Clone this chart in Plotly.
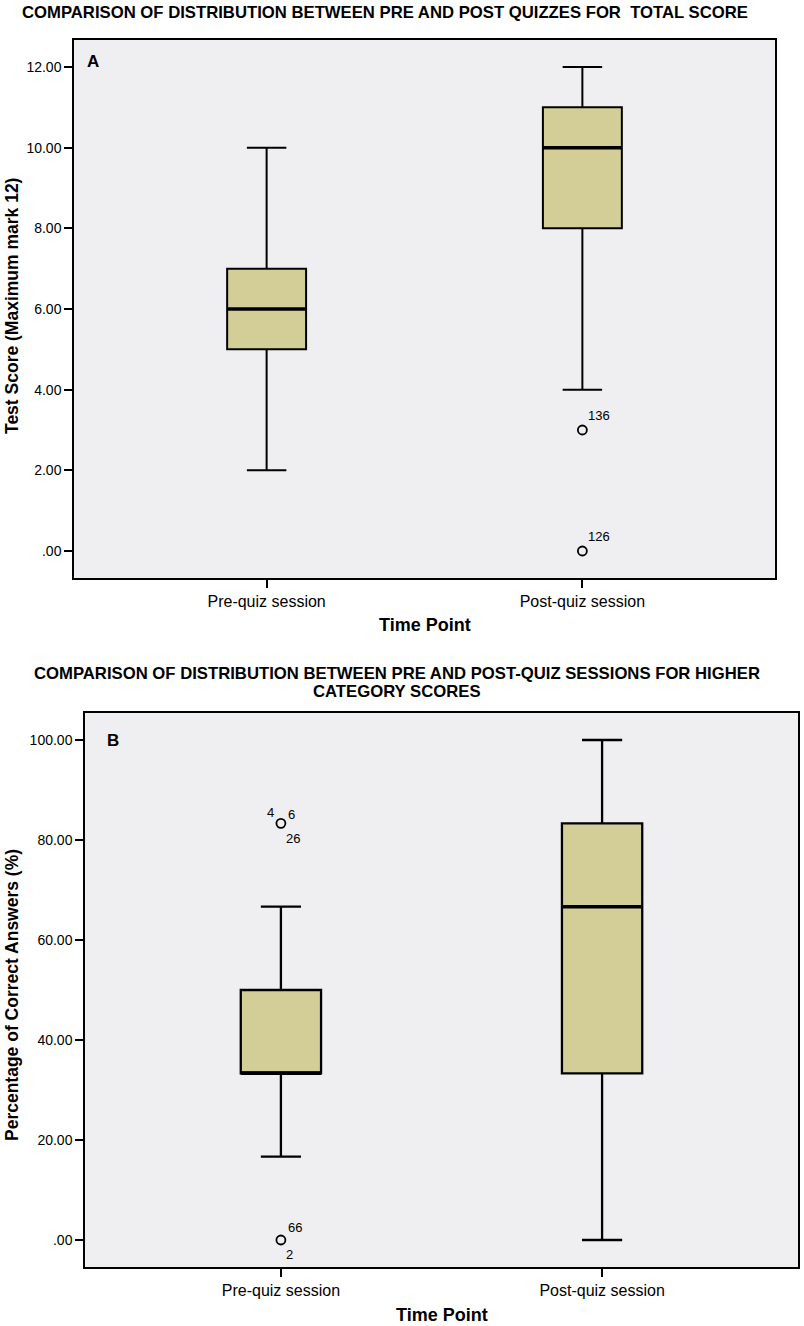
import plotly.graph_objects as go

W, H = 804, 1326

sessions = ["Pre-quiz session", "Post-quiz session"]

# ---- Panel A: total score (maximum mark 12) ----
a_low = [2, 4]
a_q1 = [5, 8]
a_median = [6, 10]
a_q3 = [7, 11]
a_high = [10, 12]
a_out_x = ["Post-quiz session", "Post-quiz session"]
a_out_y = [3, 0]
a_out_ids = [["136"], ["126"]]
a_tickvals = [0, 2, 4, 6, 8, 10, 12]
a_ticktext = [".00", "2.00", "4.00", "6.00", "8.00", "10.00", "12.00"]

# ---- Panel B: higher category scores (%) ----
b_low = [16.67, 0]
b_q1 = [33.33, 33.33]
b_median = [33.33, 66.67]
b_q3 = [50, 83.33]
b_high = [66.67, 100]
b_out_x = ["Pre-quiz session", "Pre-quiz session"]
b_out_y = [83.33, 0]
b_out_ids = [["4", "6", "26"], ["66", "2"]]
b_tickvals = [0, 20, 40, 60, 80, 100]
b_ticktext = [".00", "20.00", "40.00", "60.00", "80.00", "100.00"]

FONT = "Liberation Sans, Arial, sans-serif"
BOX_FILL = "#D3CE98"
BG = "#EFEEF0"
BOX_W = 0.25


def px_x(p):
    return p / W


def px_y(p):
    return 1 - p / H


# where SPSS put the case-id labels, relative to the marker (xshift, yshift, xanchor)
label_place = {
    "136": (4, 14, "left"), "126": (4, 14, "left"),
    "4": (-5, 11, "right"), "6": (5, 9, "left"), "26": (3, -15, "left"),
    "66": (5, 13, "left"), "2": (3, -14, "left"),
}

fig = go.Figure()

panels = [
    ("x", "y", a_low, a_q1, a_median, a_q3, a_high, a_out_x, a_out_y, a_out_ids, 2.0),
    ("x2", "y2", b_low, b_q1, b_median, b_q3, b_high, b_out_x, b_out_y, b_out_ids, 2.3),
]

shapes = []
annotations = []
for xa, ya, lo, q1, med, q3, hi, ox, oy, oids, lw in panels:
    fig.add_trace(go.Box(
        x=sessions, q1=q1, median=med, q3=q3, lowerfence=lo, upperfence=hi,
        width=BOX_W, whiskerwidth=0.5, boxpoints=False,
        fillcolor=BOX_FILL, line=dict(color="black", width=lw),
        xaxis=xa, yaxis=ya, showlegend=False,
    ))
    fig.add_trace(go.Scatter(
        x=ox, y=oy, mode="markers",
        marker=dict(symbol="circle-open", size=9, color="black", line=dict(width=1.8)),
        xaxis=xa, yaxis=ya, showlegend=False,
    ))
    # thicker median bar
    for i, m in enumerate(med):
        shapes.append(dict(type="line", xref=xa, yref=ya,
                           x0=i - BOX_W / 2, x1=i + BOX_W / 2, y0=m, y1=m,
                           line=dict(color="black", width=3.5)))
    for x, y, ids in zip(ox, oy, oids):
        for lab in ids:
            dx, dy, anc = label_place[lab]
            annotations.append(dict(x=x, y=y, xref=xa, yref=ya, text=lab,
                                    showarrow=False, xanchor=anc, yanchor="middle",
                                    xshift=dx, yshift=dy,
                                    font=dict(size=13, color="black", family=FONT)))

axis_common = dict(showline=True, mirror=True, linecolor="black", linewidth=1.5,
                   ticks="outside", ticklen=8, tickwidth=1.5, tickcolor="black",
                   showgrid=False, zeroline=False, fixedrange=True,
                   tickfont=dict(size=14, color="black", family=FONT))

x_common = dict(axis_common, type="category", range=[-0.61, 1.61],
                tickfont=dict(size=16, color="black", family=FONT))

title_font = dict(size=16.7, color="black", family=FONT)
ytitle_font = dict(size=17.5, color="black", family=FONT)
xtitle_font = dict(size=18, color="black", family=FONT)
letter_font = dict(size=17, color="black", family=FONT)


def paper_text(x, y, text, font, **kw):
    return dict(x=px_x(x), y=px_y(y), xref="paper", yref="paper", showarrow=False,
                text=text, xanchor=kw.pop("xanchor", "center"), yanchor="middle",
                font=font, **kw)


annotations += [
    paper_text(385, 13, "<b>COMPARISON OF DISTRIBUTION BETWEEN PRE AND POST QUIZZES FOR  TOTAL SCORE</b>", title_font),
    paper_text(397, 673, "<b>COMPARISON OF DISTRIBUTION BETWEEN PRE AND POST-QUIZ SESSIONS FOR HIGHER</b>", title_font),
    paper_text(397, 691, "<b>CATEGORY SCORES</b>", title_font),
    paper_text(85, 61, "<b>A</b>", letter_font, xanchor="left"),
    paper_text(105, 740, "<b>B</b>", letter_font, xanchor="left"),
    paper_text(12, 306, "<b>Test Score (Maximum mark 12)</b>", ytitle_font, textangle=-90),
    paper_text(12, 995, "<b>Percentage of Correct Answers (%)</b>", ytitle_font, textangle=-90),
    paper_text(424.5, 625, "<b>Time Point</b>", xtitle_font),
    paper_text(441.5, 1315, "<b>Time Point</b>", xtitle_font),
]

fig.update_layout(
    width=W, height=H,
    margin=dict(l=0, r=0, t=0, b=0),
    paper_bgcolor="white", plot_bgcolor=BG,
    font=dict(family=FONT, color="black"),
    xaxis=dict(x_common, domain=[px_x(74), px_x(775)], anchor="y"),
    yaxis=dict(axis_common, domain=[px_y(578), px_y(40)], anchor="x",
               range=[-0.67, 12.67], tickvals=a_tickvals, ticktext=a_ticktext),
    xaxis2=dict(x_common, domain=[px_x(85), px_x(798)], anchor="y2"),
    yaxis2=dict(axis_common, domain=[px_y(1267), px_y(713)], anchor="x2",
                range=[-5.4, 105.4], tickvals=b_tickvals, ticktext=b_ticktext),
    shapes=shapes,
    annotations=annotations,
    showlegend=False,
)

# drop the browser's default 8px page margin so the figure sits at the window's corner
fig.write_html("out.html", config={"displayModeBar": False},
               post_script="document.body.style.margin = '0';")
